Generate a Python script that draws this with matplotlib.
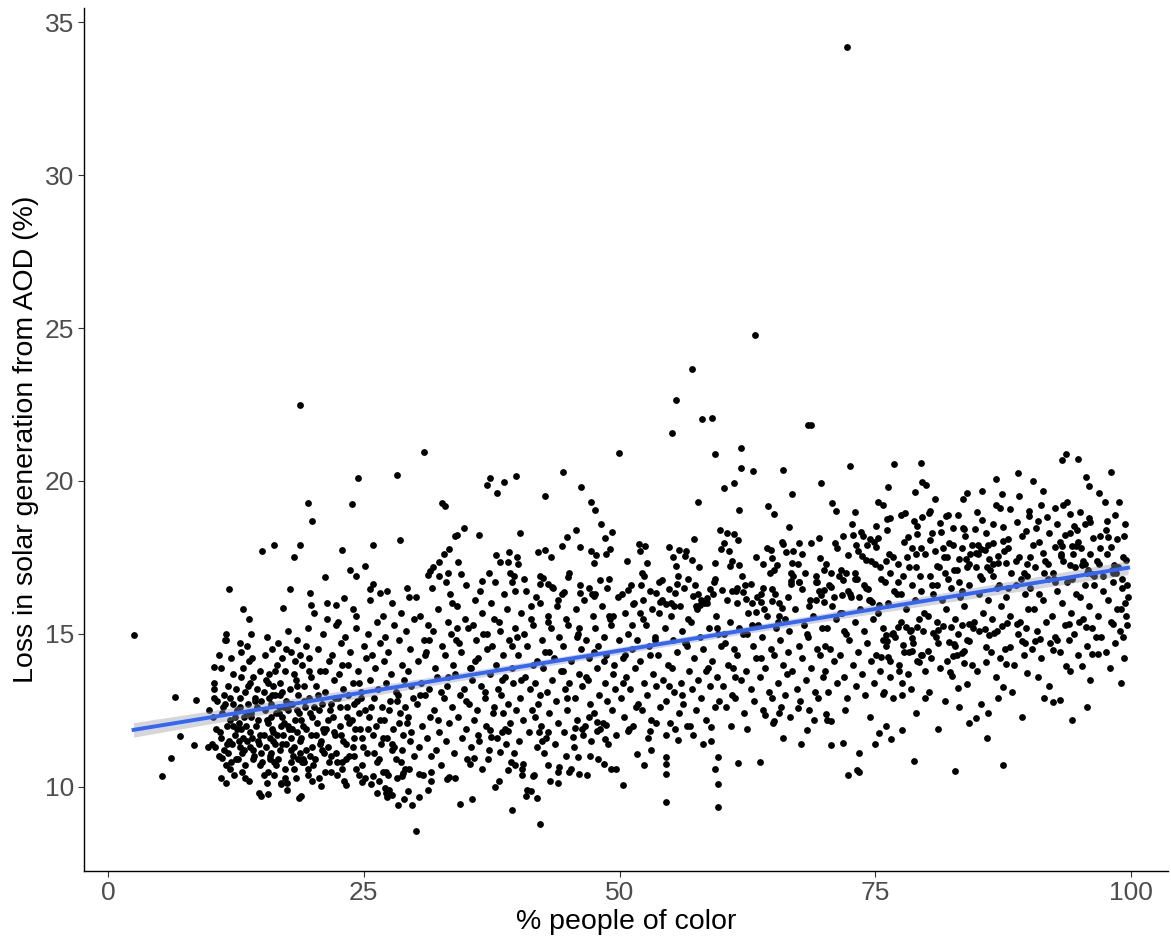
import numpy as np
import matplotlib.pyplot as plt

plt.rcParams['font.family'] = ['Liberation Sans', 'DejaVu Sans']

# ---- data: (% people of color, loss in solar generation %) ----
edge_left = [(2.5,14.97),(5.3,10.36),(6.2,10.95),(6.5,12.94),(7.0,11.67),(8.4,11.37),(8.6,12.84),(9.8,11.3),
             (9.9,12.5),(10.2,11.4),(10.35,13.92),(10.4,13.2),(10.4,12.9),(11.0,11.6),(11.5,15.0),(11.5,14.8),
             (11.5,10.12),(11.1,10.95)]

top_west = [(18.75,22.48),(24.4,20.1),(19.5,19.28),(23.8,19.26),(19.9,18.7),(15.1,17.7),(16.2,17.9),(18.8,17.9),
            (18.2,17.5),(22.9,17.75),(23.7,17.1),(24.2,16.9),(21.2,16.85),(11.8,16.47),(17.8,16.47),(19.7,16.35),
            (13.2,15.8),(17.1,15.85),(19.8,15.95),(22.3,15.95),(23.1,16.17),(13.8,15.5),(21.4,15.5),(22.5,15.4),
            (24.2,15.6)]

top_mid_left = [(30.9,20.95),(28.2,20.2),(32.6,19.28),(32.9,19.18),(37.3,20.1),(37.0,19.87),(38.7,19.97),(39.9,20.16),
                (38.0,19.6),(44.5,20.3),(42.7,19.5),(46.2,19.8),(47.2,19.3),(47.6,19.05),(49.9,20.9),(48.2,18.6),
                (49.3,18.33),(48.6,18.14),(25.9,17.9),(28.5,18.07),(25.1,17.23),(34.8,18.46),(33.9,18.2),(34.1,18.25),
                (36.3,18.23),(40.3,18.3),(45.7,18.4),(44.9,18.17),(33.3,17.78),(32.8,17.6),(32.4,17.35),(31.8,17.2),
                (31.5,17.06),(31.3,16.93),(33.2,17.0),(32.4,16.9),(34.2,17.35),(34.5,16.96),(33.0,16.7),(37.9,17.58),
                (39.2,17.68),(40.0,17.52),(38.3,17.35),(39.1,17.35),(40.1,17.29),(42.0,17.68),(42.7,17.74),(43.3,17.52),
                (44.4,17.88),(46.1,17.84),(47.2,17.71),(47.7,17.58),(47.5,17.32),(48.7,17.61),(49.1,17.78),(25.9,16.63),
                (25.6,16.47),(26.6,16.34),(27.3,16.4),(29.2,16.5),(37.2,16.99),(36.6,16.73),(37.8,16.7),(39.3,16.99),
                (39.7,16.9),(40.7,16.8),(42.2,16.9),(42.5,16.83),(42.2,16.63),(43.0,16.63),(43.4,16.54),(45.0,16.86),
                (44.6,16.37),(46.1,16.34),(47.0,16.5),(47.5,16.24),(48.1,16.76),(49.0,16.8)]

top_mid_right = [(72.2,34.18),(63.2,24.77),(57.1,23.66),(55.5,22.65),(58.1,22.02),(59.0,22.06),(55.1,21.57),(68.7,21.83),
                 (68.4,21.82),(59.3,20.88),(61.9,21.08),(61.9,20.42),(63.0,20.33),(66.0,20.36),(72.5,20.5),(60.2,19.77),
                 (61.2,19.93),(57.7,19.31),(66.9,19.57),(69.7,19.93),(61.7,19.05),(64.5,19.18),(65.1,18.92),(70.8,19.28),
                 (71.2,19.02),(66.6,18.5),(59.8,18.4),(60.5,18.3),(61.2,18.27),(61.6,18.07),(60.2,17.97),(59.9,17.78),
                 (57.3,18.1),(51.9,17.94),(52.5,17.88),(52.0,17.71),(54.8,17.84),(55.8,17.74),(56.5,17.71),(56.4,17.55),
                 (52.7,17.32),(55.5,17.22),(57.8,17.19),(57.1,17.42),(59.3,17.32),(61.0,17.38),(61.7,17.25),(60.8,17.22),
                 (63.3,17.52),(64.4,17.81),(64.8,17.74),(64.0,17.29),(64.9,17.48),(65.4,17.25),(65.1,17.09),(66.0,17.94),
                 (66.3,17.68),(66.9,17.32),(67.0,17.71),(67.5,17.97),(67.8,17.61),(66.8,16.99),(66.8,16.73),(68.1,16.99),
                 (67.5,16.7),(68.7,17.97),(69.5,18.14),(69.6,17.48),(70.7,16.99),(69.3,16.7),(71.1,17.97),(71.8,18.2),
                 (72.8,18.24),(73.6,18.33),(73.8,18.2),(73.1,17.91),(72.3,17.58),(73.7,17.55),(74.1,17.42),(75.1,18.53),
                 (75.3,18.14),(74.9,18.01),(75.1,17.84),(71.3,17.8),(50.8,16.44),(51.3,15.98),(52.3,16.11),(52.2,16.99),
                 (52.4,16.9),(54.1,16.76),(55.6,16.63),(53.6,16.34),(54.0,16.05),(54.5,15.98),(55.3,15.92),(54.8,16.47),
                 (55.4,16.34),(56.7,16.8),(57.2,16.24),(57.7,16.31),(57.9,15.95),(58.3,16.01),(58.8,16.47),(59.2,16.7),
                 (60.0,16.44),(58.5,16.18),(61.5,16.51),(62.1,16.36),(62.3,16.6),(62.8,16.63),(61.5,16.0),(62.4,16.14),
                 (63.4,16.22),(63.8,16.06),(63.3,15.72),(64.1,15.82),(64.9,16.48),(65.2,16.31),(64.9,16.08),(65.9,15.85),
                 (66.8,16.64),(67.5,16.71),(67.8,16.47),(69.2,16.7),(69.2,16.11),(69.7,16.27),(70.0,16.44),(70.0,16.06),
                 (70.7,16.54),(71.8,16.76),(71.7,16.27),(72.5,16.31),(73.0,16.8),(73.4,16.2),(74.3,16.47),(74.7,16.06),
                 (75.4,15.95)]

top_east = [(76.8,20.57),(79.5,20.59),(79.6,19.98),(80.0,19.87),(78.9,19.64),(76.2,19.81),(75.7,19.2),(77.9,18.96),
            (79.6,18.83),(80.2,18.95),(80.3,19.02),(76.1,18.76),(76.4,18.8),(79.1,18.53),(79.1,18.27),(78.2,18.17),
            (79.5,17.82),(80.3,18.08),(81.3,18.62),(81.9,18.86),(81.4,18.33),(82.6,18.46),(83.1,18.9),(83.6,19.41),
            (83.6,18.46),(83.7,18.42),(84.7,18.42),(85.4,19.67),(85.4,18.71),(82.2,17.96),(81.0,17.23),(86.8,20.06),
            (87.4,19.57),(87.2,19.12),(88.9,20.27),(90.4,20.0),(91.4,19.66),(90.0,19.02),(90.0,18.86),(87.5,18.5),
            (88.8,18.65),(89.7,18.38),(90.7,18.45),(86.5,17.97),(87.0,17.55),(87.5,18.04),(84.4,17.91),(84.8,17.63),
            (85.3,17.79),(85.7,17.74),(86.1,17.46),(86.5,17.27),(87.0,17.32),(87.8,17.32),(83.2,17.44),(83.9,17.46),
            (84.2,17.29),(84.0,17.19),(84.8,17.2),(85.9,17.2),(91.8,18.81),(92.6,19.13),(93.3,19.22),(94.0,18.92),
            (94.4,18.53),(94.7,18.4),(93.5,18.24),(93.0,18.0),(92.6,17.85),(93.2,20.7),(93.6,20.87),(94.8,20.72),
            (95.6,20.13),(95.9,19.84),(98.0,20.29),(97.4,19.31),(98.4,18.88),(97.6,18.68),(95.5,18.58),(96.0,18.65),
            (96.3,18.14),(97.7,18.18),(98.0,17.84),(99.3,18.2),(94.2,17.88),(94.6,17.89),(95.1,17.8),(94.3,17.6),
            (93.2,17.88),(91.4,17.63),(91.6,17.39),(93.1,17.55),(94.0,17.24),(99.5,17.42),(96.9,17.29),(95.2,17.25),
            (95.7,17.0),(96.2,16.96),(98.2,16.98),(98.3,17.24),(99.6,16.6),(99.7,16.2),(99.0,15.8),(99.6,15.3),
            (99.2,14.9)]

low_west = [(14.8,9.8),(14.95,9.71),(15.6,9.78),(18.7,9.64),(15.5,10.13),(16.9,10.13),(17.5,10.13),(20.8,10.04),
            (23.3,10.07)]

low_mid_left = [(30.1,8.57),(42.2,8.79),(39.5,9.23),(34.4,9.44),(35.6,9.59),(28.3,9.42),(40.9,9.71),(41.9,9.65),
                (41.3,9.88),(44.0,10.13),(30.4,9.67),(27.2,9.79),(27.8,9.74),(29.3,9.85),(40.5,10.39),(41.5,10.36),
                (39.1,10.56),(39.8,10.7),(40.6,10.75),(43.0,10.72),(44.1,10.65),(45.1,10.5),(46.0,10.42),(48.5,10.75),
                (49.7,10.57),(35.4,10.75),(35.8,10.93),(37.1,10.9),(38.3,11.15),(30.4,10.41),(31.6,10.48),(33.1,10.27),
                (33.3,10.32),(31.6,10.19),(28.8,10.45),(28.7,10.37),(27.4,10.39),(27.1,9.96),(27.3,9.68),(25.9,10.34),
                (24.8,10.15),(45.9,10.99),(47.1,11.02),(47.8,11.84),(48.6,11.57),(42.4,11.51),(43.0,11.81),(42.1,11.8),
                (45.4,11.62),(45.6,11.91),(47.0,12.27),(47.8,12.12),(48.7,12.02),(37.3,11.86),(37.4,11.64),(38.8,11.9),
                (39.1,11.84)]

low_mid_right = [(59.6,9.35),(54.5,9.49),(59.6,10.11),(59.3,10.59),(59.6,10.98),(54.5,10.43),(54.5,10.75),(54.5,10.98),
                 (50.3,10.07),(52.4,10.72),(51.7,11.07),(53.1,11.21),(61.6,10.79),(58.2,11.39),(55.7,11.54),(54.5,11.69),
                 (50.8,11.84),(53.0,11.83),(53.6,12.1),(58.9,11.97),(67.7,11.4),(68.3,11.86),(70.7,11.38),(71.8,11.42),
                 (73.4,11.11),(72.3,10.38),(73.2,10.56),(73.4,10.48),(64.2,12.34),(65.1,12.16),(65.0,12.08),(65.6,12.43),
                 (67.4,12.59),(70.2,12.37),(70.3,12.19),(70.7,12.16)]

low_east = [(78.8,10.84),(82.8,10.52),(87.5,10.72),(76.5,11.57),(77.6,11.86),(75.4,11.75),(84.2,12.1),(84.8,12.25),
            (92.4,12.78),(93.0,12.83),(94.2,12.19),(75.7,13.02),(77.6,13.01),(79.9,12.91),(83.1,13.24),(84.0,13.36),
            (86.8,13.58),(87.5,13.28),(89.8,13.73),(93.6,13.95),(95.2,13.95),(96.2,14.35),(96.8,14.35),(77.3,13.8),
            (82.3,13.77),(82.5,13.63),(79.3,14.08),(82.0,14.12),(83.7,14.04),(84.4,14.0),(85.8,14.09),(87.2,14.2),
            (87.8,14.02),(75.6,14.26),(76.2,14.23),(76.4,14.1),(77.7,14.63),(78.3,14.42),(78.6,14.44),(79.5,14.31),
            (80.1,14.44),(81.1,14.69),(82.2,14.73),(82.7,14.67),(82.6,14.29),(83.5,14.38),(83.7,14.44),(84.2,14.78),
            (85.8,14.57),(87.7,14.51),(88.2,14.58),(89.3,14.77),(90.6,14.78),(91.1,14.82),(92.4,14.46),(92.8,14.8),
            (93.9,15.33),(94.9,15.38),(95.6,15.24),(98.2,15.33),(89.7,15.19),(88.8,15.33),(87.4,15.26),(87.9,15.37),
            (75.7,14.8),(76.0,14.97),(76.7,15.02),(76.1,14.78),(77.2,15.24),(78.0,15.22),(78.5,15.13),(78.6,14.86),
            (79.1,15.22),(79.7,15.08),(80.6,15.02),(81.1,15.13),(81.6,15.26),(82.4,15.24),(83.5,15.29),(84.2,15.33),
            (85.1,15.08),(85.7,15.16),(86.1,14.97),(86.6,15.02)]

core_10 = [(12.3,10.4),(13.8,10.2),(15.6,10.5),(16.9,10.1),(18.4,10.3),(19.5,10.6),(17.5,9.9),(14.9,10.7),(11.9,10.6),
           (18.9,9.7),(16.2,10.4),(19.9,10.2),(10.8,11.0),(12.7,10.9),(13.4,10.7),(14.3,11.0),(15.1,10.8),(16.6,10.9),
           (17.3,10.6),(18.1,11.0),(19.2,10.8),(11.5,10.7),(13.1,11.1),(15.9,11.1),(17.9,10.8),(19.7,11.0),(10.5,11.3),
           (11.3,11.2),(12.1,11.4),(12.9,11.3),(13.6,11.5),(14.2,11.2),(14.8,11.4),(15.4,11.3),(16.1,11.5),(16.8,11.2),
           (17.4,11.4),(18.2,11.3),(18.8,11.5),(19.4,11.2),(11.8,11.5),(15.8,11.6),(17.1,11.7),(13.2,11.6),(10.9,11.8),
           (11.6,12.0),(12.4,11.7),(13.0,11.9),(13.9,11.8),(14.5,12.0),(15.2,11.7),(16.0,11.9),(16.5,11.7),(17.7,11.9),
           (18.5,11.8),(19.1,12.0),(19.8,11.7),(12.8,12.1),(14.1,11.6),(15.6,12.1),(17.2,12.1),(18.9,11.6),(10.3,12.3),
           (11.1,12.4),(11.9,12.2),(12.6,12.5),(13.3,12.3),(14.0,12.4),(14.7,12.2),(15.3,12.5),(15.9,12.3),(16.4,12.4),
           (17.0,12.3),(17.6,12.5),(18.3,12.2),(18.7,12.4),(19.3,12.6),(19.9,12.3),(12.2,12.7),(16.7,12.6),(10.7,12.8),
           (11.4,12.7),(12.9,12.9),(13.7,12.7),(14.4,12.9),(15.0,12.8),(15.7,12.9),(16.3,13.0),(17.4,12.8),(18.0,12.7),
           (18.6,13.0),(19.6,12.9),(13.4,13.1),(17.0,13.1),(10.4,13.4),(11.7,13.3),(12.5,13.2),(13.9,13.4),(14.6,13.2),
           (15.4,13.5),(16.1,13.3),(16.8,13.4),(17.8,13.2),(18.4,13.5),(19.2,13.3),(19.8,13.6),(11.0,13.9),(12.2,13.7),
           (13.2,13.9),(14.2,13.6),(14.9,13.8),(15.7,13.7),(16.5,14.0),(17.3,13.8),(18.2,13.7),(19.0,14.0),(19.6,13.8),
           (10.8,14.3),(12.0,14.2),(13.0,14.4),(13.8,14.1),(15.3,14.3),(16.0,14.5),(17.0,14.2),(17.9,14.4),(18.8,14.3),
           (19.4,14.6),(11.4,14.8),(12.9,14.7),(14.0,15.0),(15.5,14.9),(16.6,14.7),(17.6,15.1),(18.5,14.8),(19.5,15.2),
           (13.6,14.6)]

core_20 = [(20.6,10.3),(21.8,10.5),(23.1,10.2),(24.5,10.4),(25.7,10.1),(26.9,10.5),(28.2,10.3),(29.4,10.6),(27.5,9.9),
           (28.9,9.6),(29.7,9.4),(26.3,9.8),(20.2,10.9),(21.1,11.1),(22.4,10.8),(23.6,11.0),(24.8,10.7),(25.3,11.1),
           (26.5,10.9),(27.8,11.2),(28.6,10.8),(29.9,11.0),(22.9,10.6),(20.8,11.5),(21.5,11.3),(22.2,11.7),(23.3,11.4),
           (24.0,11.6),(24.9,11.3),(25.9,11.7),(26.7,11.4),(27.3,11.6),(28.0,11.3),(28.8,11.7),(29.5,11.5),(20.4,12.1),
           (21.3,11.9),(22.0,12.3),(22.7,12.0),(23.8,12.2),(24.6,11.9),(25.5,12.3),(26.2,12.0),(27.0,12.2),(27.9,11.9),
           (28.5,12.4),(29.2,12.1),(20.9,12.7),(21.7,12.5),(22.5,12.9),(23.4,12.6),(24.3,12.8),(25.1,12.5),(26.0,12.9),
           (26.8,12.6),(27.6,12.8),(28.3,13.0),(29.0,12.6),(29.8,12.9),(20.3,13.3),(21.2,13.1),(22.1,13.5),(23.0,13.2),
           (23.9,13.4),(24.7,13.1),(25.6,13.5),(26.4,13.2),(27.2,13.4),(28.1,13.1),(28.9,13.5),(29.6,13.3),(20.7,13.8),
           (21.6,14.1),(22.6,13.7),(23.5,14.0),(24.4,13.8),(25.2,14.2),(26.1,13.9),(27.0,14.1),(27.7,13.7),(28.7,14.0),
           (29.3,13.8),(20.5,14.5),(21.9,14.3),(22.8,14.7),(23.7,14.4),(25.0,14.6),(25.8,14.3),(26.6,14.7),(27.4,14.4),
           (28.4,14.8),(29.5,14.5),(21.0,15.0),(22.3,15.3),(23.2,14.9),(24.2,15.2),(25.4,15.0),(26.3,15.4),(27.1,14.9),
           (28.0,15.3),(29.1,15.1),(29.9,15.5),(20.1,15.7),(21.4,16.0),(23.9,15.8),(25.6,16.1),(26.9,15.6),(27.8,16.0),
           (28.6,15.7),(29.4,16.2)]

core_30 = [(30.8,10.4),(32.5,10.7),(33.9,10.3),(35.1,10.9),(36.6,10.6),(38.2,10.2),(39.4,10.8),(31.6,11.0),(37.8,10.0),
           (31.3,9.9),(30.4,11.3),(31.2,11.6),(32.1,11.2),(33.0,11.5),(33.8,11.1),(34.6,11.6),(35.5,11.3),(36.3,11.5),
           (37.2,11.2),(38.0,11.6),(38.9,11.4),(39.7,11.1),(30.7,12.0),(31.5,12.3),(32.4,11.8),(33.3,12.1),(34.2,12.3),
           (35.0,11.9),(35.8,12.2),(36.9,12.0),(37.6,12.4),(38.5,11.8),(39.3,12.1),(30.2,12.7),(31.0,13.0),(31.9,12.5),
           (32.8,12.9),(33.6,12.6),(34.4,13.0),(35.3,12.7),(36.1,12.5),(36.8,12.9),(37.7,12.6),(38.4,13.0),(39.1,12.7),
           (39.9,12.5),(30.6,13.4),(31.4,13.2),(32.2,13.6),(33.1,13.3),(33.9,13.7),(34.8,13.2),(35.6,13.5),(36.5,13.3),
           (37.3,13.7),(38.1,13.2),(38.8,13.6),(39.6,13.4),(30.3,14.1),(31.1,14.4),(32.0,13.9),(32.9,14.3),(33.7,14.0),
           (34.5,14.4),(35.4,13.9),(36.2,14.2),(37.0,14.5),(37.9,14.0),(38.6,14.3),(39.5,13.9),(30.9,14.8),(31.8,15.1),
           (32.6,14.6),(33.5,15.0),(34.3,14.7),(35.2,15.2),(36.0,14.8),(36.7,15.0),(37.5,14.6),(38.3,15.1),(39.2,14.8),
           (39.8,15.2),(30.5,15.6),(31.3,15.3),(32.3,15.8),(33.2,15.4),(34.1,15.9),(34.9,15.5),(35.7,15.3),(36.6,15.7),
           (37.4,16.0),(38.2,15.4),(39.0,15.8),(30.1,16.2),(31.7,16.5),(33.4,16.3),(35.0,16.6),(35.9,16.1),(36.4,16.4),
           (38.7,16.3),(39.5,16.7)]

core_40 = [(40.5,10.6),(41.6,10.4),(43.2,10.2),(44.0,10.5),(45.3,10.6),(46.8,10.4),(47.9,10.9),(49.2,10.6),(41.0,9.9),
           (44.8,11.0),(42.6,11.1),(40.2,11.5),(41.1,11.8),(41.9,11.3),(42.8,11.6),(43.7,11.4),(44.6,11.8),(45.5,11.3),
           (46.4,11.7),(47.2,11.5),(48.1,11.9),(48.9,11.4),(49.7,11.7),(40.6,12.2),(41.4,12.5),(42.3,12.0),(43.1,12.4),
           (44.0,12.1),(44.9,12.5),(45.8,12.2),(46.6,12.0),(47.5,12.4),(48.4,12.1),(49.3,12.5),(40.3,12.9),(41.2,13.2),
           (42.0,12.7),(42.9,13.1),(43.8,12.8),(44.7,13.2),(45.6,12.9),(46.3,13.3),(47.1,12.7),(48.0,13.0),(48.8,12.8),
           (49.6,13.2),(40.8,13.6),(41.7,13.4),(42.5,13.9),(43.4,13.5),(44.3,13.8),(45.1,13.4),(46.0,13.7),(46.9,13.5),
           (47.8,13.9),(48.6,13.4),(49.4,13.7),(40.1,14.3),(41.0,14.6),(41.9,14.1),(42.7,14.4),(43.6,14.2),(44.5,14.6),
           (45.3,14.1),(46.2,14.5),(47.0,14.2),(47.9,14.6),(48.7,14.3),(49.5,14.0),(40.7,15.0),(41.5,15.3),(42.4,14.8),
           (43.3,15.2),(44.1,14.9),(45.0,15.3),(45.9,15.0),(46.7,14.8),(47.6,15.2),(48.5,14.9),(49.2,15.3),(49.9,14.8),
           (40.4,15.7),(41.3,15.5),(42.2,16.0),(43.0,15.6),(43.9,15.9),(44.8,15.5),(45.7,15.8),(46.5,16.1),(47.4,15.6),
           (48.3,15.9),(49.1,15.5),(40.9,16.4),(41.8,16.2),(43.5,16.5),(44.4,16.3),(46.1,16.6),(47.3,16.3),(48.8,16.5),
           (49.8,16.2)]

core_50 = [(50.4,12.3),(51.3,12.0),(52.2,12.5),(53.1,12.2),(54.0,12.6),(54.9,12.1),(55.8,12.4),(56.6,12.0),(57.5,12.5),
           (58.4,12.2),(59.3,12.6),(50.1,12.9),(51.0,13.2),(51.8,12.7),(52.7,13.0),(53.6,13.3),(54.5,12.8),(55.3,13.1),
           (56.2,12.7),(57.1,13.2),(58.0,12.9),(58.8,13.3),(59.7,12.8),(50.6,13.6),(51.5,13.9),(52.4,13.4),(53.3,13.7),
           (54.2,13.5),(55.1,13.9),(56.0,13.4),(56.8,13.8),(57.7,13.5),(58.6,13.9),(59.5,13.6),(50.3,14.2),(51.2,14.5),
           (52.0,14.1),(52.9,14.6),(53.8,14.3),(54.7,14.0),(55.6,14.4),(56.4,14.7),(57.3,14.2),(58.2,14.5),(59.0,14.1),
           (59.9,14.6),(50.8,15.0),(51.7,14.8),(52.6,15.3),(53.5,14.9),(54.4,15.2),(55.2,14.8),(56.1,15.1),(57.0,15.4),
           (57.9,14.9),(58.7,15.2),(59.6,15.0),(50.5,15.7),(51.4,16.0),(52.3,15.5),(53.2,15.8),(54.1,16.1),(55.0,15.6),
           (55.9,15.9),(56.7,15.5),(57.6,15.8),(58.5,16.0),(59.4,15.6),(50.2,16.3),(51.1,16.6),(53.0,16.4),(53.9,16.7),
           (56.3,16.5),(57.4,16.6),(59.1,16.3),(50.9,11.9),(52.8,11.6),(55.4,11.9),(57.2,11.7),(58.9,11.5),(56.9,12.0)]

core_60 = [(60.4,12.6),(61.3,12.9),(62.2,12.4),(63.1,12.8),(64.0,12.5),(64.9,12.9),(65.8,12.6),(66.7,12.3),(67.6,12.8),
           (68.5,12.5),(69.4,12.9),(60.1,13.3),(61.0,13.0),(61.9,13.5),(62.8,13.2),(63.7,13.6),(64.6,13.1),(65.5,13.4),
           (66.4,13.7),(67.3,13.2),(68.2,13.5),(69.1,13.1),(69.9,13.6),(60.6,14.0),(61.5,14.3),(62.4,13.8),(63.3,14.2),
           (64.2,13.9),(65.1,14.3),(66.0,14.0),(66.9,13.8),(67.8,14.2),(68.7,13.9),(69.6,14.3),(60.3,14.7),(61.2,14.5),
           (62.1,15.0),(63.0,14.6),(63.9,14.9),(64.8,14.5),(65.7,14.8),(66.6,15.1),(67.5,14.6),(68.4,14.9),(69.3,14.5),
           (60.8,15.4),(61.7,15.2),(62.6,15.7),(63.5,15.3),(64.4,15.6),(65.3,15.2),(66.2,15.5),(67.1,15.8),(68.0,15.3),
           (68.9,15.6),(69.8,15.2),(60.5,16.1),(61.4,16.4),(62.9,16.0),(63.8,16.3),(65.6,16.0),(66.5,16.2),(68.6,16.1),
           (69.5,16.4),(60.9,12.0),(62.5,11.9),(63.7,10.8),(66.0,11.6),(69.0,12.2)]

core_70 = [(70.4,13.1),(71.3,13.4),(72.2,12.9),(73.1,13.3),(74.0,13.0),(74.9,13.4),(75.8,13.1),(76.7,12.9),(77.6,13.4),
           (78.5,13.2),(70.1,13.8),(71.0,14.1),(71.9,13.6),(72.8,14.0),(73.7,13.7),(74.6,14.1),(75.5,13.8),(76.4,13.6),
           (77.3,14.0),(78.2,13.7),(79.1,14.1),(79.9,13.8),(70.6,14.5),(71.5,14.3),(72.4,14.8),(73.3,14.4),(74.2,14.7),
           (75.1,14.3),(76.0,14.6),(76.9,14.9),(77.8,14.4),(78.7,14.7),(79.6,14.3),(70.3,15.2),(71.2,15.5),(72.1,15.0),
           (73.0,15.4),(73.9,15.1),(74.8,15.5),(75.7,15.2),(76.6,15.0),(77.5,15.4),(78.4,15.1),(79.3,15.5),(70.8,15.9),
           (71.7,15.7),(72.6,16.2),(73.5,15.8),(74.4,16.1),(75.3,15.7),(76.2,16.0),(77.1,16.3),(78.0,15.8),(78.9,16.1),
           (79.8,15.7),(70.5,16.6),(71.4,16.9),(72.3,16.4),(73.2,16.8),(74.1,16.5),(75.9,16.7),(76.8,16.4),(77.7,16.9),
           (78.6,16.6),(79.5,16.4),(70.2,17.3),(71.6,17.1),(74.6,17.4),(75.5,17.2),(76.3,17.6),(77.2,17.3),(78.1,17.5),
           (79.0,17.2),(72.0,12.5),(74.5,12.3),(76.0,12.0),(79.0,12.4),(75.0,11.4)]

core_80 = [(80.4,14.2),(81.3,13.9),(83.0,14.3),(84.9,13.8),(86.3,14.4),(88.6,14.0),(89.5,14.3),(80.1,15.6),(81.0,15.4),
           (81.9,15.8),(82.8,15.5),(83.7,15.9),(84.6,15.4),(85.5,15.7),(86.4,15.5),(87.3,15.9),(88.2,15.6),(89.1,15.4),
           (89.9,15.8),(80.6,16.3),(81.5,16.1),(82.4,16.5),(83.3,16.2),(84.2,16.6),(85.1,16.3),(86.0,16.1),(86.9,16.5),
           (87.8,16.2),(88.7,16.6),(89.6,16.3),(80.3,16.9),(81.2,17.2),(82.1,16.8),(83.0,17.1),(85.2,16.9),(86.2,17.1),
           (88.3,17.0),(89.2,16.8),(89.8,17.3),(80.8,17.7),(81.7,17.5),(82.6,17.9),(85.0,17.6),(88.0,17.8),(89.0,17.5),
           (80.9,14.9),(83.1,15.0),(84.0,14.8),(86.9,15.1),(88.9,15.0),(89.6,14.7),(84.5,15.2),(82.8,14.6),(80.2,13.1),
           (81.8,12.8),(85.3,12.7),(86.0,12.4),(87.0,12.9),(88.4,13.1),(89.3,12.3),(83.2,12.6),(85.9,11.6),(81.1,11.9)]

core_90 = [(90.3,14.5),(91.2,14.2),(92.1,14.7),(93.0,14.4),(93.9,14.8),(94.8,14.3),(95.7,14.6),(96.6,14.9),(97.5,14.4),
           (98.4,14.7),(99.3,14.2),(90.8,15.1),(91.7,15.4),(92.6,14.9),(93.5,15.3),(94.4,15.0),(95.3,15.5),(96.2,15.2),
           (97.1,14.9),(98.0,15.4),(98.9,15.1),(99.5,15.6),(90.5,15.8),(91.4,16.1),(92.3,15.6),(93.2,16.0),(94.1,15.7),
           (95.0,16.2),(95.9,15.9),(96.8,15.6),(97.7,16.1),(98.6,15.8),(99.4,16.0),(90.1,16.5),(91.0,16.3),(91.9,16.8),
           (92.8,16.4),(93.7,16.7),(94.6,16.3),(95.5,16.6),(96.4,16.9),(97.3,16.4),(98.2,16.7),(99.1,16.5),(90.6,17.2),
           (92.4,17.0),(93.3,17.4),(95.8,17.1),(96.7,17.4),(97.6,17.6),(98.7,17.2),(99.2,17.5),(90.9,13.6),(92.0,13.3),
           (94.0,13.8),(96.0,13.5),(97.9,13.9),(99.0,13.4),(91.5,12.9),(95.7,12.6)]

extra_low_left = [(10.6,11.9),(11.2,12.6),(11.7,11.1),(12.0,10.8),(12.4,12.3),(12.8,11.5),(13.1,10.5),(13.5,12.0),
                  (13.9,11.3),(14.2,10.9),(14.6,12.6),(14.9,11.7),(15.2,10.4),(15.5,12.2),(15.8,11.0),(16.1,11.8),
                  (16.4,10.7),(16.7,12.4),(17.0,11.4),(17.3,10.3),(17.6,12.0),(17.9,11.2),(18.2,10.6),(18.5,12.5),
                  (18.8,11.1),(19.1,10.9),(19.4,11.9),(19.7,12.4),(20.0,10.7),(20.3,11.7),(20.6,12.5),(20.9,11.2),
                  (21.2,10.5),(21.5,12.2),(21.8,11.0),(22.1,11.8),(22.4,10.4),(22.7,12.6),(23.0,11.5),(23.3,10.9),
                  (23.6,12.1),(23.9,11.3),(24.2,10.6),(24.5,12.4),(24.8,11.6),(25.1,10.3),(25.4,11.9),(25.7,12.6),
                  (26.0,11.1),(26.3,10.8),(26.6,12.2),(26.9,11.6),(27.2,10.5),(27.5,12.5),(27.8,11.4),(28.1,10.9),
                  (28.4,12.1),(28.7,11.2),(29.0,10.6),(29.3,12.3),(29.6,11.8),(11.0,10.3),(12.6,11.9),(14.0,12.3),
                  (15.9,12.7),(17.8,12.7),(19.5,10.4),(21.0,11.9),(22.9,10.8),(24.0,12.7),(26.5,10.2),(28.2,12.8),
                  (13.3,11.2),(16.3,11.4),(18.9,12.2)]

extra_high_right = [(72.1,17.0),(72.7,18.6),(73.3,17.7),(73.9,16.6),(74.5,18.1),(75.0,17.3),(75.6,16.8),(76.1,18.4),
                    (76.7,17.5),(77.2,16.7),(77.8,18.0),(78.3,17.2),(78.8,18.7),(79.4,16.9),(79.9,17.6),(80.5,18.3),
                    (81.0,16.6),(81.6,17.8),(82.1,18.9),(82.7,17.1),(83.2,16.7),(83.8,18.2),(84.3,17.6),(84.9,19.0),
                    (85.4,16.8),(86.0,17.9),(86.5,18.6),(87.1,16.6),(87.6,17.7),(88.2,19.1),(88.7,17.4),(89.3,18.2),
                    (89.8,16.9),(90.4,17.9),(90.9,18.7),(91.5,17.0),(92.0,18.3),(92.6,16.7),(93.1,17.6),(93.7,19.3),
                    (94.2,16.8),(94.8,18.0),(95.3,17.4),(95.9,18.8),(96.4,16.6),(97.0,17.8),(97.5,18.4),(98.1,17.1),
                    (98.6,18.1),(99.1,16.8),(99.4,18.6),(73.0,19.0),(75.3,19.3),(77.5,18.9),(80.8,19.4),(84.0,19.6),
                    (86.8,19.2),(89.0,19.5),(91.2,19.2),(92.8,18.6),(95.0,19.0),(96.9,19.6),(98.8,19.3),(74.2,17.9),
                    (76.4,17.0),(78.6,17.8),(81.8,17.0),(83.5,17.8),(85.8,18.3),(88.0,16.5),(90.1,17.5),(91.9,17.3),
                    (94.5,17.2),(96.0,17.6),(97.3,16.9)]

extra_mid = [(30.5,13.0),(31.4,14.8),(32.3,12.2),(33.2,13.6),(34.1,15.2),(35.0,12.8),(35.9,14.1),(36.8,13.1),
             (37.7,15.5),(38.6,12.4),(39.5,14.6),(40.4,13.5),(41.3,15.9),(42.2,13.0),(43.1,14.4),(44.0,16.1),
             (44.9,12.9),(45.8,14.9),(46.7,13.6),(47.6,16.3),(48.5,14.1),(49.4,15.6),(50.3,13.4),(51.2,15.3),
             (52.1,16.6),(53.0,14.3),(53.9,15.7),(54.8,13.3),(55.7,16.9),(56.6,14.6),(57.5,15.9),(58.4,13.8),
             (59.3,16.8),(60.2,15.0),(61.1,13.9),(62.0,16.9),(62.9,15.3),(63.8,14.2),(64.7,17.0),(65.6,15.6),
             (66.5,14.4),(67.4,17.3),(68.3,15.0),(69.2,16.9),(70.1,14.6),(71.0,16.2),(71.9,15.1),(36.2,11.7),
             (41.7,12.3),(46.3,11.9),(51.6,12.6),(56.1,13.0),(61.3,13.6),(66.2,13.0),(33.6,16.0),(39.8,16.4),
             (45.1,17.0),(50.7,17.4),(55.2,17.5),(60.7,17.7),(65.9,18.0)]

dense_left = [(11.3,13.0),(11.9,12.9),(12.5,10.9),(13.0,13.6),(13.6,12.4),(14.1,14.2),(14.7,11.5),(15.2,13.1),
              (15.8,10.9),(16.3,13.8),(16.9,12.0),(17.4,14.5),(17.9,11.6),(18.5,13.3),(19.0,10.8),(19.6,14.2),
              (20.1,12.6),(20.7,11.4),(21.2,13.8),(21.8,12.7),(22.3,11.1),(22.9,14.0),(23.4,12.3),(24.0,11.0),
              (24.5,13.4),(11.6,11.4),(12.2,12.0),(12.9,12.6),(13.4,10.3),(14.4,12.8),(15.0,11.1),(15.6,13.4),
              (16.2,10.8),(16.8,13.0),(17.2,12.6),(18.0,11.9),(18.6,10.9),(19.2,12.8),(19.9,11.3),(20.5,13.0),
              (21.1,11.8),(21.6,10.8),(22.2,12.9),(22.8,11.7),(23.5,13.0),(24.1,11.9),(24.7,12.9),(13.7,13.3),
              (16.0,13.0),(18.3,14.1)]

dense_mid = [(31.0,14.3),(32.5,13.1),(34.0,14.8),(35.5,13.9),(37.0,15.0),(38.5,13.5),(40.0,14.9),(41.5,14.0),
             (43.0,15.4),(44.5,13.8),(46.0,15.2),(47.5,14.4),(49.0,15.6),(50.5,14.3),(52.0,15.7),(53.5,14.8),
             (55.0,16.0),(56.5,14.7),(58.0,16.1),(59.5,15.2),(61.0,16.4),(62.5,15.0),(64.0,16.5),(65.5,15.4),
             (67.0,16.9),(68.5,15.9),(70.0,17.1),(71.5,15.7),(73.0,17.0),(74.5,16.1),(76.0,17.4),(77.5,16.3),
             (79.0,17.6),(80.5,16.6),(82.0,17.5),(83.5,16.4),(85.0,17.9),(86.5,16.9),(88.0,18.1),(89.5,17.0),
             (91.0,18.0),(92.5,16.8),(94.0,18.3),(95.5,17.3),(97.0,18.2),(98.5,17.0)]

groups = [edge_left, top_west, top_mid_left, top_mid_right, top_east, low_west, low_mid_left,
          low_mid_right, low_east, core_10, core_20, core_30, core_40, core_50, core_60,
          core_70, core_80, core_90, extra_low_left, extra_high_right, extra_mid, dense_left, dense_mid]

pts = np.array([p for g in groups for p in g])
poc = pts[:, 0]
loss = pts[:, 1]

# linear fit with 95% confidence band (like geom_smooth(method = "lm"))
slope, icpt = np.polyfit(poc, loss, 1)
xs = np.linspace(poc.min(), poc.max(), 100)
ys = icpt + slope * xs
n = len(poc)
resid = loss - (icpt + slope * poc)
s = np.sqrt(np.sum(resid ** 2) / (n - 2))
se = s * np.sqrt(1 / n + (xs - poc.mean()) ** 2 / np.sum((poc - poc.mean()) ** 2))

fig = plt.figure(figsize=(11.71, 9.41), dpi=100)
ax = fig.add_axes([0.0717, 0.0744, 0.9257, 0.917])

ax.scatter(poc, loss, s=24, c='black', linewidths=0, zorder=2)
ax.fill_between(xs, ys - 1.96 * se, ys + 1.96 * se, color='#999999', alpha=0.4, lw=0, zorder=3)
ax.plot(xs, ys, color='#3366FF', lw=2.8, zorder=4)

ax.set_xlim(-2.35, 103.6)
ax.set_ylim(7.25, 35.46)
ax.set_xticks([0, 25, 50, 75, 100])
ax.set_yticks([10, 15, 20, 25, 30, 35])

for side in ['top', 'right']:
    ax.spines[side].set_visible(False)
for side in ['left', 'bottom']:
    ax.spines[side].set_linewidth(1.0)
    ax.spines[side].set_color('black')

ax.tick_params(axis='both', length=4, width=0.8, color='#333333', labelcolor='#4D4D4D',
               labelsize=19, pad=3)
ax.set_xlabel('% people of color', fontsize=20.5, color='black', labelpad=3)
ax.set_ylabel('Loss in solar generation from AOD (%)', fontsize=20.5, color='black', labelpad=4)

fig.savefig('out.png', dpi=100)
